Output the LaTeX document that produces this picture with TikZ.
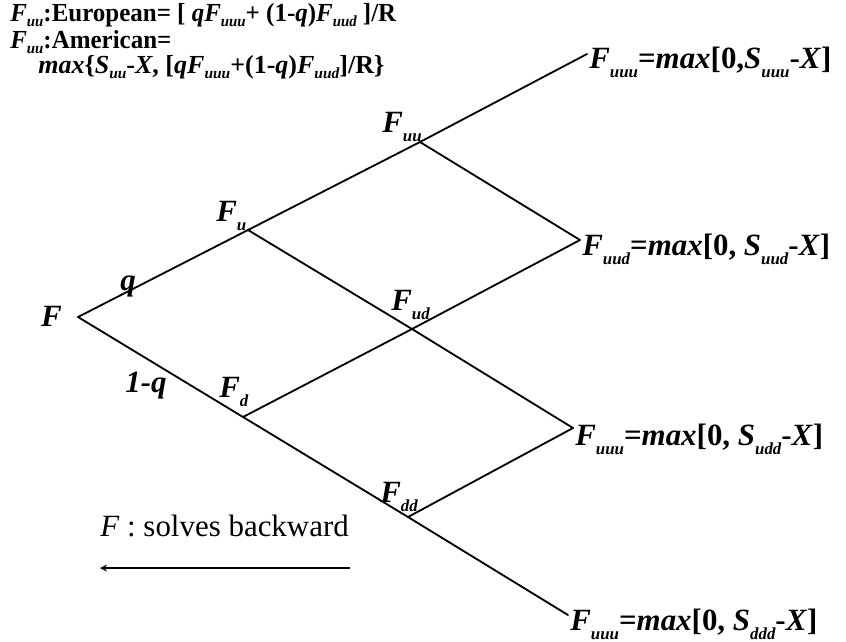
\documentclass[tikz,border=0pt]{standalone}
\usepackage{fontspec}
\setmainfont{Liberation Serif}
\usetikzlibrary{positioning}

\newcommand{\dn}[1]{\raisebox{-0.3em}{\fontsize{12}{12}\selectfont\itshape #1}}
\newcommand{\hdn}[1]{\raisebox{-0.2em}{\fontsize{11}{11}\selectfont\itshape #1}}

\tikzset{
  branch/.style={line width=1.3pt,line cap=round},
  txt/.style={inner sep=0pt,anchor=base west,font=\fontsize{22}{24}\selectfont\bfseries},
  head/.style={txt,font=\fontsize{18.5}{22}\selectfont\bfseries},
}

\begin{document}
\begin{tikzpicture}[x=0.025cm,y=-0.025cm]
    \useasboundingbox (0,0) rectangle (846,641);

    % lattice points
    \foreach \p/\x/\y in {f/78/317,u/248/230,d/243/417,uu/420/142,ud/412/329,dd/408/517,
                          uuu/587/54,uud/580/240,udd/573/428,ddd/568/615}{
        \coordinate (\p) at (\x,\y);
    }
    \foreach \a/\b in {f/u,f/d,u/uu,u/ud,d/ud,d/dd,uu/uuu,uu/uud,ud/uud,ud/udd,dd/udd,dd/ddd}{
        \draw[branch] (\a)--(\b);
    }

    % node values
    \node[txt,anchor=base east] (nf) at (62,326) {\textit{F}};
    \node[txt] (nu) at (216,221) {\textit{F}\dn{u}};
    \node[txt] (nd) at (219,397) {\textit{F}\dn{d}};
    \node[txt] (nuu) at (382,132) {\textit{F}\dn{uu}};
    \node[txt] (nud) at (391,310) {\textit{F}\dn{ud}};
    \node[txt] (ndd) at (380,502) {\textit{F}\dn{dd}};

    % probabilities
    \node[txt,anchor=center] (pq) at (128,286) {\textit{q}};
    \node[txt,anchor=center] (pq1) at (146,386) {\textit{1-q}};

    % terminal payoffs
    \node[txt] (tuuu) at (589,68) {\textit{F}\dn{uuu}=\textit{max}[0,\textit{S}\dn{uuu}-\textit{X}]};
    \node[txt] (tuud) at (582,255) {\textit{F}\dn{uud}=\textit{max}[0, \textit{S}\dn{uud}-\textit{X}]};
    \node[txt] (tudd) at (575,445) {\textit{F}\dn{uuu}=\textit{max}[0, \textit{S}\dn{udd}-\textit{X}]};
    \node[txt] (tddd) at (570,630) {\textit{F}\dn{uuu}=\textit{max}[0, \textit{S}\dn{ddd}-\textit{X}]};

    % formulas
    \node[head] (eur) at (10,21) {\scalebox{0.96}[1]{\textit{F}\hdn{uu}:European= [ \textit{qF}\hdn{uuu}+ (1-\textit{q})\textit{F}\hdn{uud} ]/R}};
    \node[head] (ame) at (10,48) {\scalebox{0.96}[1]{\textit{F}\hdn{uu}:American=}};
    \node[head] (amx) at (38,73) {\textit{max}\{\textit{S}\hdn{uu}-\textit{X}, [\textit{qF}\hdn{uuu}+(1-\textit{q})\textit{F}\hdn{uud}]/R\}};

    % backward
    \node[txt,font=\fontsize{22}{24}\selectfont] (back) at (100,536) {\textit{F} : solves backward};
    \coordinate (a1) at (350,568);
    \coordinate (a2) at (100,568);
    \draw[line width=1.2pt,-stealth] (a1)--(a2);
\end{tikzpicture}
\end{document}
